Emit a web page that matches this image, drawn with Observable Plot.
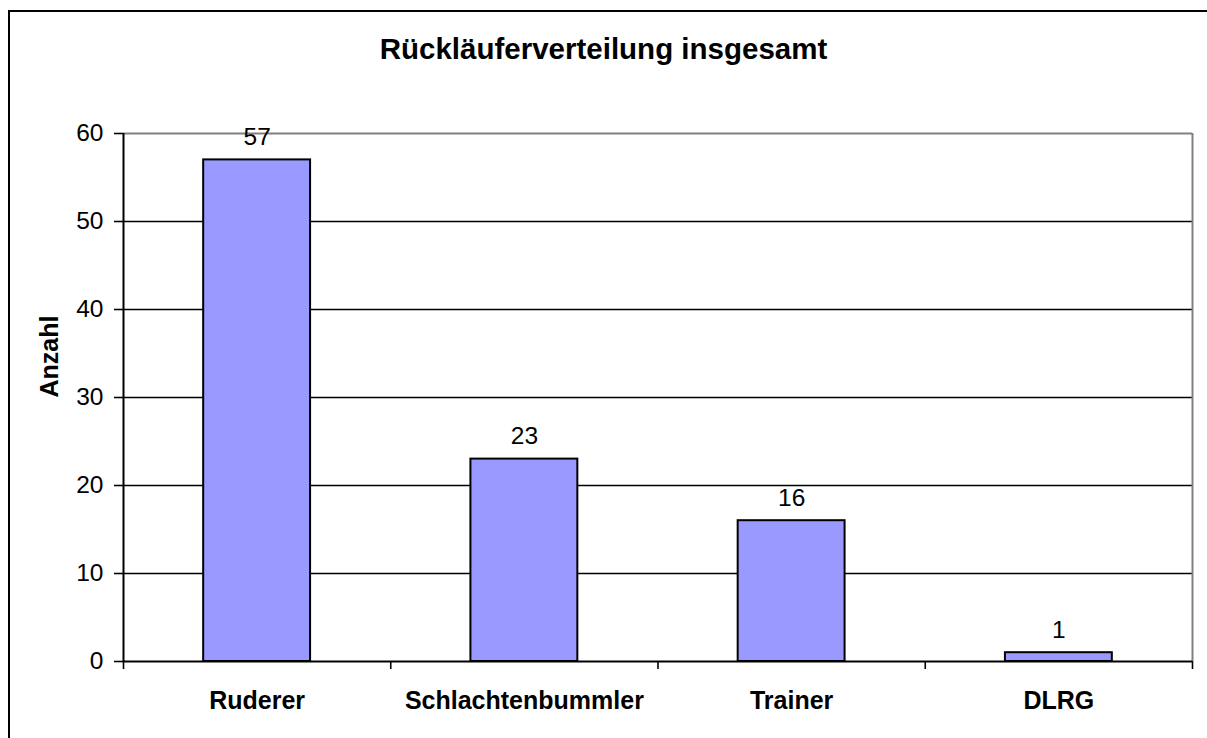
<!DOCTYPE html>
<html>
<head>
<meta charset="utf-8">
<script src="https://cdn.jsdelivr.net/npm/d3@7"></script>
<script src="https://cdn.jsdelivr.net/npm/@observablehq/plot@0.6"></script>
<style>
  html, body { margin: 0; padding: 0; background: #fff; overflow: hidden; }
  #page { position: relative; width: 1207px; height: 738px; overflow: hidden; font-family: Arial, "Liberation Sans", sans-serif; }
  #frame { position: absolute; left: 8px; top: 10px; width: 1400px; height: 1000px; border: 2px solid #000; box-sizing: border-box; }
  #title { position: absolute; left: 0; top: 0; width: 1207px; height: 100px; box-sizing: border-box; padding-top: 34px; text-align: center; font-weight: bold; font-size: 29.5px; line-height: 29px; color: #000; }
  #chart { position: absolute; left: 0; top: 100px; }
</style>
</head>
<body>
<div id="page">
  <div id="frame"></div>
  <div id="title">Rückläuferverteilung insgesamt</div>
  <div id="chart"></div>
</div>
<script>
const categories = ["Ruderer", "Schlachtenbummler", "Trainer", "DLRG"];
const counts = [57, 23, 16, 1];
const yTicks = [0, 10, 20, 30, 40, 50, 60];
const yLabel = "Anzahl";

const data = categories.map((c, i) => ({i, category: c, count: counts[i]}));
const boundaries = d3.range(-0.5, categories.length, 1);
const barHalf = 0.2;

const font = 'Arial, "Liberation Sans", sans-serif';

const chart = Plot.plot({
  width: 1207,
  height: 638,
  marginLeft: 123,
  marginRight: 15,
  marginTop: 33,
  marginBottom: 77,
  style: {fontFamily: font, color: "#000", background: "transparent", overflow: "visible"},
  x: {type: "linear", domain: [-0.5, categories.length - 0.5], axis: null},
  y: {domain: [0, 60], axis: null},
  marks: [
    Plot.gridY(yTicks.filter(t => t > 0 && t < 60), {stroke: "#000", strokeOpacity: 1, strokeWidth: 1.6}),
    Plot.ruleY([60], {stroke: "#808080", strokeWidth: 2}),
    Plot.ruleX([categories.length - 0.5], {stroke: "#808080", strokeWidth: 2}),
    Plot.rectY(data, {
      x1: d => d.i - barHalf, x2: d => d.i + barHalf,
      y1: 0, y2: "count",
      fill: "#9999FF", stroke: "#000", strokeWidth: 2
    }),
    Plot.text(data, {
      x: "i", y: "count", text: d => String(d.count),
      lineAnchor: "bottom", dy: -15, fontSize: 24.5, fill: "#000"
    }),
    Plot.ruleX([-0.5], {stroke: "#000", strokeWidth: 2}),
    Plot.ruleY([0], {stroke: "#000", strokeWidth: 2}),
    Plot.axisY(yTicks, {
      tickSize: 9, tickPadding: 11, fontSize: 24.5, stroke: "#000", strokeWidth: 1.6,
      tickFormat: d => String(d), label: null
    }),
    Plot.axisX(boundaries, {
      tickSize: 8, tickFormat: () => "", stroke: "#000", strokeWidth: 1.6, label: null
    }),
    Plot.axisX(data.map(d => d.i), {
      tickSize: 0, tickPadding: 30, fontSize: 25, fontWeight: "bold",
      tickFormat: i => categories[i], label: null
    }),
    Plot.text([yLabel], {
      frameAnchor: "left", text: d => d, rotate: -90, dx: -74,
      fontSize: 25, fontWeight: "bold", fill: "#000"
    })
  ]
});
document.getElementById("chart").appendChild(chart);
</script>
</body>
</html>
